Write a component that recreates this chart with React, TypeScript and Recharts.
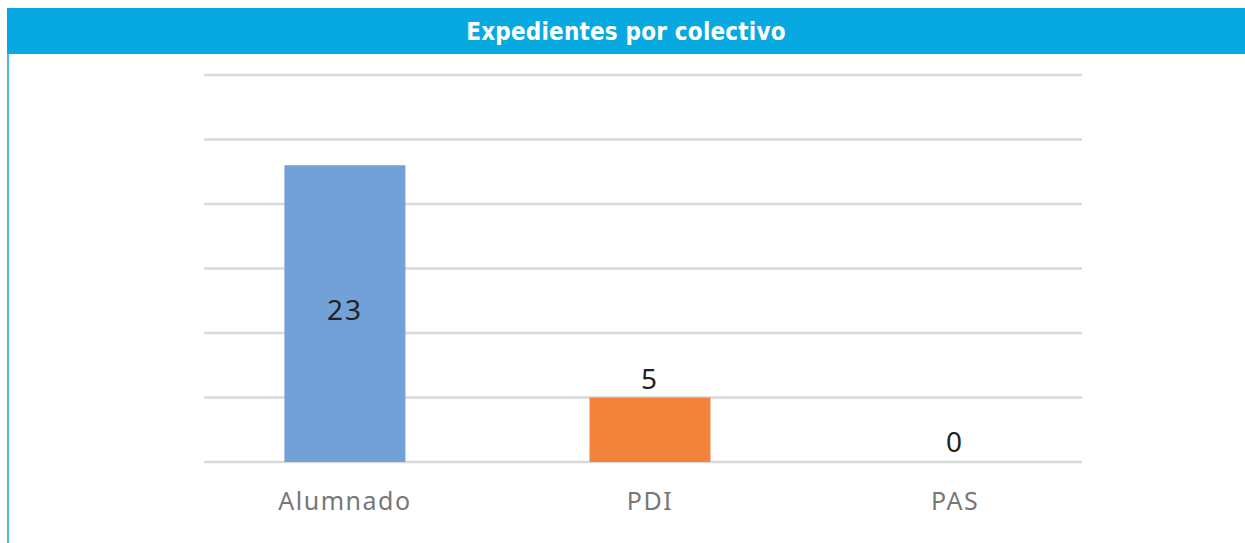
import React from 'react';
import { BarChart, Bar, XAxis, YAxis, CartesianGrid, Cell } from 'recharts';

const categories = ['Alumnado', 'PDI', 'PAS'];
const values = [23, 5, 0];
const colors = ['#71A1D6', '#F2833B', '#A5A5A5'];
const yTicks = [0, 5, 10, 15, 20, 25, 30];

const data = categories.map((name, i) => ({ name, pos: i, value: values[i] }));

const renderValue = (props: any) => {
  const { x, y, width, height, value } = props;
  const cx = x + width / 2;
  const inside = value > 10;
  const cy = inside ? y + height / 2 - 5 : y - 20;
  return (
    <text
      x={cx}
      y={cy}
      textAnchor="middle"
      dominantBaseline="central"
      fill="#222"
      fontSize={28}
      letterSpacing={2}
      fontFamily="'Noto Sans', sans-serif"
    >
      {value}
    </text>
  );
};

export default function App() {
  return (
    <div
      style={{
        marginLeft: 7,
        marginTop: 8,
        width: 1236,
        borderLeft: '2px solid #4DB8E6',
        fontFamily: "'Noto Sans', sans-serif",
      }}
    >
      <style>{'body{margin:0;overflow:hidden}'}</style>
      <div
        style={{
          height: 46,
          background: '#08A8E0',
          color: '#fff',
          fontFamily: "'DejaVu Sans Condensed', sans-serif",
          fontWeight: 700,
          fontSize: 24,
          letterSpacing: 0.2,
          display: 'flex',
          alignItems: 'center',
          justifyContent: 'center',
          marginLeft: -2,
          paddingTop: 2,
          boxSizing: 'border-box',
        }}
      >
        Expedientes por colectivo
      </div>
      <BarChart
        width={1236}
        height={489}
        data={data}
        margin={{ top: 21, right: 163, left: 195, bottom: 0 }}
      >
        <CartesianGrid vertical={false} stroke="#D9D9D9" strokeWidth={2.5} />
        <XAxis
          type="number"
          dataKey="pos"
          domain={[-0.462, 2.416]}
          ticks={[0, 1, 2]}
          tickFormatter={(i: number) => categories[i]}
          axisLine={false}
          tickLine={false}
          height={81}
          tick={{ fill: '#777', fontSize: 25, letterSpacing: 1.5 }}
          dy={22}
          allowDataOverflow
        />
        <YAxis hide domain={[0, 30]} ticks={yTicks} />
        <Bar dataKey="value" barSize={121} minPointSize={1} isAnimationActive={false} label={renderValue}>
          {data.map((d, i) => (
            <Cell key={d.name} fill={d.value > 0 ? colors[i] : 'transparent'} />
          ))}
        </Bar>
      </BarChart>
    </div>
  );
}
